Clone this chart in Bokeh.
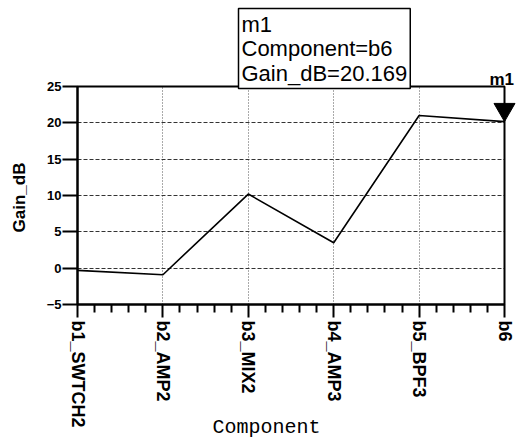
import math
from bokeh.plotting import figure
from bokeh.models import Label, FixedTicker, Range1d, BoxAnnotation, Grid
from bokeh.embed import file_html
from bokeh.resources import INLINE

components = ["b1_SWTCH2", "b2_AMP2", "b3_MIX2", "b4_AMP3", "b5_BPF3", "b6"]
gain_db = [-0.3, -0.9, 10.2, 3.5, 21.0, 20.169]
y_ticks = [-5, 0, 5, 10, 15, 20, 25]
marker_name = "m1"
marker_index = 5

xs = list(range(len(components)))

# layout (pixels)
W, H = 517, 445
left_px, right_px, top_px, bottom_px = 77, 504, 86, 304
sx = (right_px - left_px) / (xs[-1] - xs[0])
sy = (bottom_px - top_px) / (y_ticks[-1] - y_ticks[0])

x_range = Range1d(xs[0] - left_px / sx, xs[0] + (W - left_px) / sx)
y_range = Range1d(y_ticks[0] - (H - bottom_px) / sy, y_ticks[-1] + top_px / sy)

p = figure(width=W, height=H, output_backend="svg", toolbar_location=None,
           x_range=x_range, y_range=y_range, min_border=0)
p.background_fill_color = "white"
p.border_fill_color = "white"
p.outline_line_color = None

minor = [i + k / 5 for i in xs[:-1] for k in range(1, 5)]
p.xaxis.ticker = FixedTicker(ticks=xs, minor_ticks=minor)
p.xaxis.fixed_location = y_ticks[0]
p.xaxis.bounds = (xs[0], xs[-1])
p.xaxis.major_label_overrides = {i: c for i, c in enumerate(components)}
p.xaxis.major_label_orientation = -math.pi / 2
p.xaxis.major_label_text_font = "Liberation Sans"
p.xaxis.major_label_text_font_style = "bold"
p.xaxis.major_label_text_font_size = "18px"
p.xaxis.major_label_text_color = "black"
p.xaxis.major_tick_out = 13
p.xaxis.major_tick_in = 0
p.xaxis.minor_tick_out = 8
p.xaxis.minor_tick_in = 0
p.xaxis.major_label_standoff = 3

p.yaxis.ticker = FixedTicker(ticks=y_ticks, minor_ticks=[])
p.yaxis.fixed_location = xs[0]
p.yaxis.bounds = (y_ticks[0], y_ticks[-1])
p.yaxis.major_label_text_font = "Liberation Sans"
p.yaxis.major_label_text_font_style = "bold"
p.yaxis.major_label_text_font_size = "13px"
p.yaxis.major_label_text_color = "black"
p.yaxis.major_tick_out = 15
p.yaxis.major_tick_in = 0
p.yaxis.major_label_standoff = 1

for ax in (p.xaxis, p.yaxis):
    ax.axis_line_color = "black"
    ax.axis_line_width = 2
    ax.major_tick_line_color = "black"
    ax.major_tick_line_width = 2
    ax.minor_tick_line_color = "black"
    ax.minor_tick_line_width = 2

if "cross_bounds" in Grid.properties():
    p.xgrid.ticker = FixedTicker(ticks=xs[1:-1])
    p.xgrid.cross_bounds = (y_ticks[0], y_ticks[-1])
    p.xgrid.grid_line_color = "#555555"
    p.xgrid.grid_line_dash = "1 2"
    p.xgrid.grid_line_width = 1
    p.ygrid.ticker = FixedTicker(ticks=y_ticks[1:-1])
    p.ygrid.cross_bounds = (xs[0], xs[-1])
    p.ygrid.grid_line_color = "#333333"
    p.ygrid.grid_line_dash = "4 2"
    p.ygrid.grid_line_width = 1
else:
    p.grid.visible = False
    p.segment(x0=xs[1:-1], x1=xs[1:-1], y0=[y_ticks[0]] * (len(xs) - 2),
              y1=[y_ticks[-1]] * (len(xs) - 2), line_color="#555555", line_dash="1 2")
    p.segment(x0=[xs[0]] * (len(y_ticks) - 2), x1=[xs[-1]] * (len(y_ticks) - 2),
              y0=y_ticks[1:-1], y1=y_ticks[1:-1], line_color="#333333", line_dash="4 2")

p.add_layout(BoxAnnotation(left=xs[0], right=xs[-1], bottom=y_ticks[0], top=y_ticks[-1],
                           fill_alpha=0, line_color="black", line_alpha=1.0, line_width=2))

p.line(xs, gain_db, line_color="black", line_width=1.6)

# marker triangle (tip on the data point)
tri_size = 21
tip_offset = (tri_size / 2) * math.sqrt(3) * 2 / 3 / sy
p.scatter([xs[marker_index]], [gain_db[marker_index] + tip_offset], marker="inverted_triangle",
          size=tri_size, fill_color="black", line_color="black")

p.add_layout(Label(x=489, y=H - 79, x_units="screen", y_units="screen", text=marker_name,
                   text_font="Liberation Sans", text_font_style="bold", text_font_size="17px",
                   text_align="left", text_baseline="alphabetic", text_color="black"))

box_text = (f"{marker_name}\nComponent={components[marker_index]}\n"
            f"Gain_dB={gain_db[marker_index]:.3f}")
p.add_layout(Label(x=238, y=H - 8, x_units="screen", y_units="screen", text=box_text,
                   text_font="Liberation Sans", text_font_size="22px", text_line_height=0.98,
                   text_align="left", text_baseline="top", text_color="black",
                   border_line_color="black", border_line_width=1.5,
                   background_fill_color="white", padding=3))

p.add_layout(Label(x=19, y=H - 197, x_units="screen", y_units="screen", text="Gain_dB",
                   angle=math.pi / 2, text_font="Liberation Sans", text_font_style="bold",
                   text_font_size="17px", text_align="center", text_baseline="middle",
                   text_color="black"))

p.add_layout(Label(x=266, y=H - 427, x_units="screen", y_units="screen", text="Component",
                   text_font="Liberation Mono", text_font_size="20px",
                   text_align="center", text_baseline="middle", text_color="black"))

open("out.html", "w").write(file_html(p, INLINE))
